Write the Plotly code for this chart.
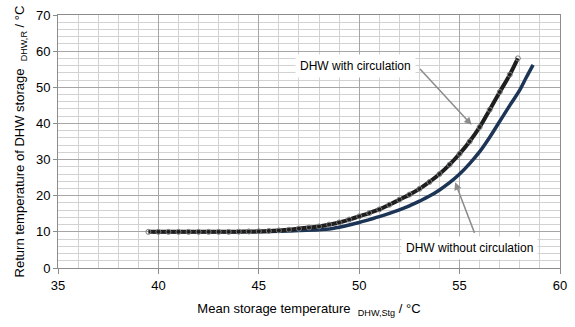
import plotly.graph_objects as go

# With circulation
x_circ = [39.5, 40, 40.5, 41, 41.5, 42, 42.5, 43, 43.5, 44, 44.5, 45, 45.5, 46, 46.5, 47, 47.5, 48, 48.5, 49,
          49.5, 50, 50.5, 51, 51.5, 52, 52.5, 53, 53.5, 54, 54.5, 55, 55.5, 56, 56.5, 57, 57.5, 57.9]
y_circ = [10.0, 10.0, 10.0, 10.0, 10.0, 10.0, 10.0, 10.0, 10.0, 10.05, 10.1, 10.15, 10.25, 10.4, 10.6, 10.9, 11.2, 11.5, 12.0, 12.6,
          13.4, 14.3, 15.2, 16.2, 17.5, 18.9, 20.3, 21.9, 23.8, 26.0, 28.6, 31.6, 35.0, 39.0, 43.8, 48.7, 53.5, 58.0]

# Without circulation
x_nocirc = [39.7, 40, 41, 42, 43, 44, 45, 46, 47, 48, 48.5, 49, 49.5, 50, 50.5, 51, 51.5, 52, 52.5, 53, 53.5, 54,
            54.5, 55, 55.5, 56, 56.5, 57, 57.5, 58, 58.3, 58.66]
y_nocirc = [10.0, 10.0, 10.0, 10.0, 10.0, 10.0, 10.05, 10.15, 10.35, 10.6, 10.8, 11.3, 11.9, 12.6, 13.4, 14.2, 15.1, 16.1, 17.2, 18.5, 19.9, 21.6,
            23.6, 26.0, 28.9, 32.2, 36.2, 40.6, 45.0, 49.3, 52.5, 56.2]

x_ticks = [35, 40, 45, 50, 55, 60]
y_ticks = [0, 10, 20, 30, 40, 50, 60, 70]

fig = go.Figure()
fig.add_trace(go.Scatter(x=x_nocirc, y=y_nocirc, mode="lines",
                         line=dict(color="#1C3556", width=3.5, shape="spline"),
                         showlegend=False))
fig.add_trace(go.Scatter(x=x_circ, y=y_circ, mode="lines+markers",
                         line=dict(color="#1E1E1E", width=4, shape="spline"),
                         marker=dict(symbol="circle-open", size=5, color="#7A7A7A", line=dict(width=1)),
                         showlegend=False))

font = "Liberation Sans, Arial, sans-serif"
arrow_color = "#8C8C8C"
fig.add_annotation(x=55.6, y=39.6, ax=52.96, ay=55.5, axref="x", ayref="y", xref="x", yref="y",
                   text="", showarrow=True, arrowhead=2, arrowsize=1, arrowwidth=1.5, arrowcolor=arrow_color)
fig.add_annotation(x=54.78, y=23.7, ax=55.77, ay=9.3, axref="x", ayref="y", xref="x", yref="y",
                   text="", showarrow=True, arrowhead=2, arrowsize=1, arrowwidth=1.5, arrowcolor=arrow_color)
fig.add_annotation(x=49.8, y=56.0, xref="x", yref="y", text="DHW with circulation", showarrow=False,
                   bgcolor="white", borderpad=4, font=dict(family=font, size=12, color="#000"))
fig.add_annotation(x=55.47, y=5.6, xref="x", yref="y", text="DHW without circulation", showarrow=False,
                   bgcolor="white", borderpad=4, font=dict(family=font, size=12, color="#000"))

fig.update_layout(
    width=575, height=327,
    margin=dict(l=58, r=13, t=8, b=59),
    paper_bgcolor="white", plot_bgcolor="white",
    font=dict(family=font, size=13, color="#000"),
    xaxis=dict(range=[35, 60], tickvals=x_ticks, ticktext=[str(v) for v in x_ticks],
               showgrid=True, gridcolor="#A6A6A6", gridwidth=1,
               minor=dict(dtick=1, showgrid=True, gridcolor="#D2D2D2", gridwidth=1),
               showline=True, linecolor="#8C8C8C", linewidth=1, mirror=True,
               ticks="outside", ticklen=5, tickcolor="#8C8C8C",
               zeroline=False,
               title=dict(text="Mean storage temperature  <sub>DHW,Stg</sub> / °C", standoff=12,
                          font=dict(size=13))),
    yaxis=dict(range=[0, 70], tickvals=y_ticks, ticktext=[str(v) for v in y_ticks],
               showgrid=True, gridcolor="#A6A6A6", gridwidth=1,
               minor=dict(dtick=2, showgrid=True, gridcolor="#D2D2D2", gridwidth=1),
               showline=True, linecolor="#8C8C8C", linewidth=1, mirror=True,
               ticks="outside", ticklen=4, tickcolor="#8C8C8C",
               zeroline=False,
               title=dict(text="Return temperature of DHW storage  <sub>DHW,R</sub> / °C", standoff=8,
                          font=dict(size=13))),
)

fig.write_html("out.html")
